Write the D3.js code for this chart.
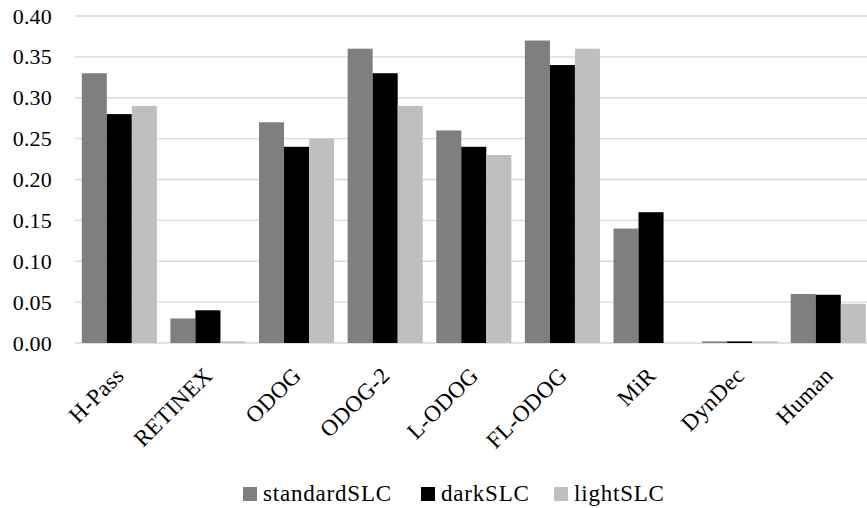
<!DOCTYPE html>
<html><head><meta charset="utf-8">
<script src="https://cdn.jsdelivr.net/npm/d3@7"></script>
<style>body{margin:0;background:#fff}svg{display:block}</style>
</head><body><svg id="c" width="867" height="508"></svg>
<script>
const categories = ["H-Pass","RETINEX","ODOG","ODOG-2","L-ODOG","FL-ODOG","MiR","DynDec","Human"];
const seriesNames = ["standardSLC","darkSLC","lightSLC"];
const standardSLC = [0.33,0.03,0.27,0.36,0.26,0.37,0.14,0.002,0.06];
const darkSLC     = [0.28,0.04,0.24,0.33,0.24,0.34,0.16,0.002,0.059];
const lightSLC    = [0.29,0.002,0.25,0.29,0.23,0.36,0,0.002,0.048];
const yTicks = [0,0.05,0.10,0.15,0.20,0.25,0.30,0.35,0.40];
const colors = ["#7f7f7f","#000000","#bfbfbf"];

const FONT = "'Liberation Serif', 'DejaVu Serif', serif";
const series = [standardSLC, darkSLC, lightSLC];
const svg = d3.select("#c");
const pLeft = 75, pRight = 872.6, pTop = 16, pBottom = 343;
const x = d3.scaleBand().domain(categories).range([pLeft, pRight]).paddingInner(0).paddingOuter(0);
const x1 = d3.scaleBand().domain(seriesNames).range([0, x.bandwidth()]).paddingInner(0).paddingOuter(0.27);
const y = d3.scaleLinear().domain([0, 0.40]).range([pBottom, pTop]);

svg.append("g").selectAll("line").data(yTicks).join("line")
  .attr("x1", pLeft).attr("x2", 867).attr("y1", d => y(d)).attr("y2", d => y(d))
  .attr("stroke", "#d9d9d9").attr("stroke-width", 1.3);

const yAxis = d3.axisLeft(y).tickValues(yTicks).tickFormat(d3.format(".2f")).tickSize(0).tickPadding(0);
const ga = svg.append("g").attr("transform", `translate(52,0)`).call(yAxis);
ga.select(".domain").remove();
ga.attr("font-family", null).attr("font-size", null);
ga.selectAll("text").style("font-family", FONT).style("font-size", "22px").style("letter-spacing", "0.2px").attr("fill", "#000");

const g = svg.append("g");
series.forEach((vals, si) => {
  g.append("g").selectAll("rect").data(vals).join("rect")
    .attr("x", (d, i) => x(categories[i]) + x1(seriesNames[si]))
    .attr("width", x1.bandwidth())
    .attr("y", d => y(d))
    .attr("height", d => pBottom - y(d))
    .attr("fill", colors[si]);
});

svg.append("g").selectAll("text").data(categories).join("text")
  .attr("transform", d => `translate(${x(d) + x.bandwidth()/2 + 6},377) rotate(-45)`)
  .attr("text-anchor", "end")
  .style("font-family", FONT).style("font-size", "23px").style("letter-spacing", "0.3px").attr("fill", "#000")
  .text(d => d);

const legendPos = [243, 421, 554];
const lg = svg.append("g");
seriesNames.forEach((n, i) => {
  lg.append("rect").attr("x", legendPos[i]).attr("y", 487).attr("width", 14).attr("height", 14).attr("fill", colors[i]);
  lg.append("text").attr("x", legendPos[i] + 20).attr("y", 501)
    .style("font-family", FONT).style("font-size", "23px").style("letter-spacing", "0.8px").attr("fill", "#000").text(n);
});
</script></body></html>
